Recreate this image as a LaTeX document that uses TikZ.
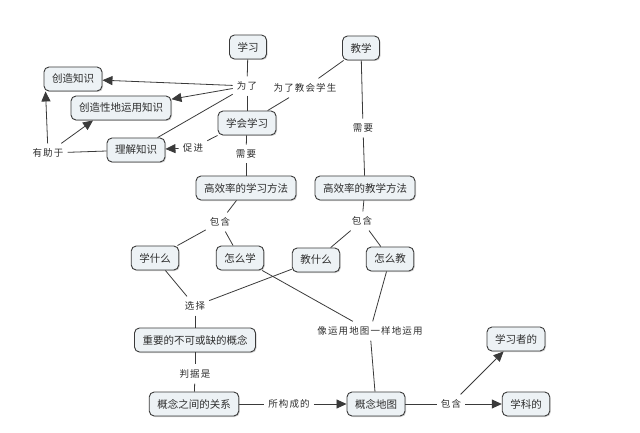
\documentclass[tikz,border=0pt]{standalone}
\usepackage{fontspec}
\setmainfont{Noto Sans CJK SC}
\newfontfamily\labfont[LetterSpace=12]{Noto Sans CJK SC}
\usetikzlibrary{arrows.meta,shadows}
\definecolor{boxfill}{HTML}{EDF2F5}
\definecolor{boxline}{HTML}{3A3A3A}
\definecolor{txt}{HTML}{2E2E2E}
\tikzset{
  concept/.style={draw=boxline, line width=0.9pt, fill=boxfill, rounded corners=5pt,
    minimum height=24pt, inner xsep=8pt, inner ysep=2pt, text=txt,
    font=\fontsize{10.5}{12}\selectfont,
    drop shadow={shadow xshift=1pt, shadow yshift=-1pt, opacity=0.35, fill=gray}},
  lab/.style={fill=white, inner xsep=4pt, inner ysep=5pt, text=txt,
    font=\labfont\fontsize{9.5}{11}\selectfont},
  link/.style={draw=boxline, line width=0.8pt},
  arr/.style={link, -{Triangle[length=10pt,width=9pt]}}
}
\begin{document}
\begin{tikzpicture}[x=1pt,y=-1pt]
\useasboundingbox (0,0) rectangle (640,433);
% concepts
\node[concept] (xx)   at (248,47)  {学习};
\node[concept] (jx)   at (361,48)  {教学};
\node[concept] (cz)   at (73,79)   {创造知识};
\node[concept] (csx)  at (121,108) {创造性地运用知识};
\node[concept] (xhxx) at (247,123) {学会学习};
\node[concept] (lj)   at (136,150) {理解知识};
\node[concept] (gxx)  at (246,188) {高效率的学习方法};
\node[concept] (gjx)  at (365,188) {高效率的教学方法};
\node[concept] (xsm)  at (155,258) {学什么};
\node[concept] (zmx)  at (240,258) {怎么学};
\node[concept] (jsm)  at (316,260) {教什么};
\node[concept] (zmj)  at (390,259) {怎么教};
\node[concept] (zy)   at (195,340) {重要的不可或缺的概念};
\node[concept] (gx)   at (194,404) {概念之间的关系};
\node[concept] (dt)   at (376,404) {概念地图};
\node[concept] (xxz)  at (516,339) {学习者的};
\node[concept] (xk)   at (526,404) {学科的};
% labels
\node[lab] (wl)   at (247,86)  {为了};
\node[lab] (wljh) at (305,88)  {为了教会学生};
\node[lab] (cj)   at (193,148) {促进};
\node[lab] (yzy)  at (48,153)  {有助于};
\node[lab] (xy1)  at (246,154) {需要};
\node[lab] (xy2)  at (363,128) {需要};
\node[lab] (bh1)  at (220,222) {包含};
\node[lab] (bh2)  at (362,221) {包含};
\node[lab] (xz)   at (195,306) {选择};
\node[lab] (xyd)  at (370,331) {像运用地图一样地运用};
\node[lab] (pj)   at (195,374) {判据是};
\node[lab] (sgc)  at (289,404) {所构成的};
\node[lab] (bh3)  at (451,404) {包含};
% connectors
\draw[link] (xx) -- (wl);
\draw[link] (wl) -- (xhxx);
\draw[arr] (wl) -- (cz);
\draw[arr] (wl) -- (csx);
\draw[link] (lj) -- (wl);
\draw[link] (jx) -- (wljh);
\draw[link] (wljh) -- (xhxx);
\draw[link] (xhxx.south west) -- (cj);
\draw[arr] (cj) -- (lj);
\draw[link] (lj) -- (yzy);
\draw[arr] (yzy) -- ([xshift=2pt]cz.south west);
\draw[arr] (yzy) -- ([xshift=-28pt]csx.south);
\draw[link] (xhxx) -- (xy1);
\draw[link] (xy1) -- (gxx);
\draw[link] (jx) -- (xy2);
\draw[link] (xy2) -- (gjx);
\draw[link] (gxx) -- (bh1);
\draw[link] (bh1) -- (xsm);
\draw[link] (bh1) -- (zmx);
\draw[link] (gjx) -- (bh2);
\draw[link] (bh2) -- (jsm);
\draw[link] (bh2) -- (zmj);
\draw[link] (xsm) -- (xz);
\draw[link] (jsm) -- (xz);
\draw[link] (xz) -- (zy);
\draw[link] (zmx) -- (xyd);
\draw[link] (zmj) -- (xyd);
\draw[link] (xyd) -- (dt);
\draw[link] (zy) -- (pj);
\draw[link] (pj) -- (gx);
\draw[link] (gx) -- (sgc);
\draw[arr] (sgc) -- (dt);
\draw[link] (dt) -- (bh3);
\draw[arr] (bh3) -- (xk);
\draw[arr] (bh3) -- (xxz);
\end{tikzpicture}
\end{document}
